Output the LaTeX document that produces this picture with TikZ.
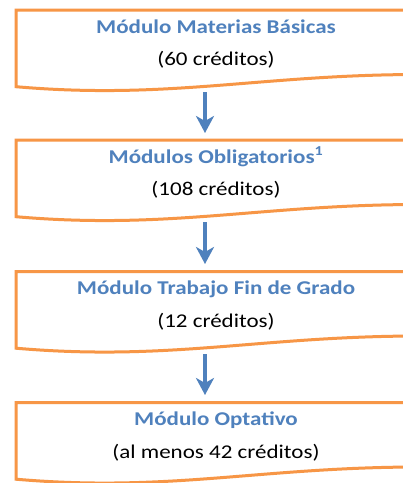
\documentclass[tikz,border=0pt]{standalone}
\usepackage{fontspec}
\setmainfont{Carlito}
\usetikzlibrary{arrows.meta}
\definecolor{orng}{HTML}{F79646}
\definecolor{blu}{HTML}{4F81BD}
\newcommand\hs[1]{\scalebox{1.18}[1]{#1}}
\begin{document}
\begin{tikzpicture}[x=1pt,y=1pt,
  boxline/.style={draw=orng, line width=3pt, fill=white},
  ttl/.style={anchor=base, inner sep=0pt, font=\fontsize{19.5}{21}\selectfont\bfseries, text=blu},
  sub/.style={anchor=base, inner sep=0pt, font=\fontsize{19.5}{21}\selectfont, text=black},
  arr/.style={draw=blu, line width=4pt, -{Stealth[length=17pt,width=18pt,inset=5pt]}}]
\useasboundingbox (0,0) rectangle (403,-483);
\clip (0,0) rectangle (403,-483);
\fill[white] (0,0) rectangle (403,-483);
\foreach \t in {10,140,271.5,402.5}{
  \path[boxline] (16,-\t-76.7) -- (16,-\t) -- (420,-\t) -- (420,-\t-64.5)
    .. controls (260,-\t-64.5) and (170,-\t-90) .. (16,-\t-76.7) -- cycle;
}
\node[ttl] (t1) at (216,-33.3) {\hs{Módulo Materias Básicas}};
\node[sub] (s1) at (216,-65.7) {\hs{(60 créditos)}};
\node[ttl] (t2) at (216,-163.3) {\hs{Módulos Obligatorios\textsuperscript{1}}};
\node[sub] (s2) at (216,-195.7) {\hs{(108 créditos)}};
\node[ttl] (t3) at (216,-294.8) {\hs{Módulo Trabajo Fin de Grado}};
\node[sub] (s3) at (216,-327.2) {\hs{(12 créditos)}};
\node[ttl] (t4) at (216,-425.8) {\hs{Módulo Optativo}};
\node[sub] (s4) at (216,-458.2) {\hs{(al menos 42 créditos)}};
\coordinate (a1s) at (205,-92);
\coordinate (a1e) at (205,-133);
\coordinate (a2s) at (205,-222);
\coordinate (a2e) at (205,-264);
\coordinate (a3s) at (205,-354);
\coordinate (a3e) at (205,-395);
\draw[arr] (a1s) -- (a1e);
\draw[arr] (a2s) -- (a2e);
\draw[arr] (a3s) -- (a3e);
\end{tikzpicture}
\end{document}
